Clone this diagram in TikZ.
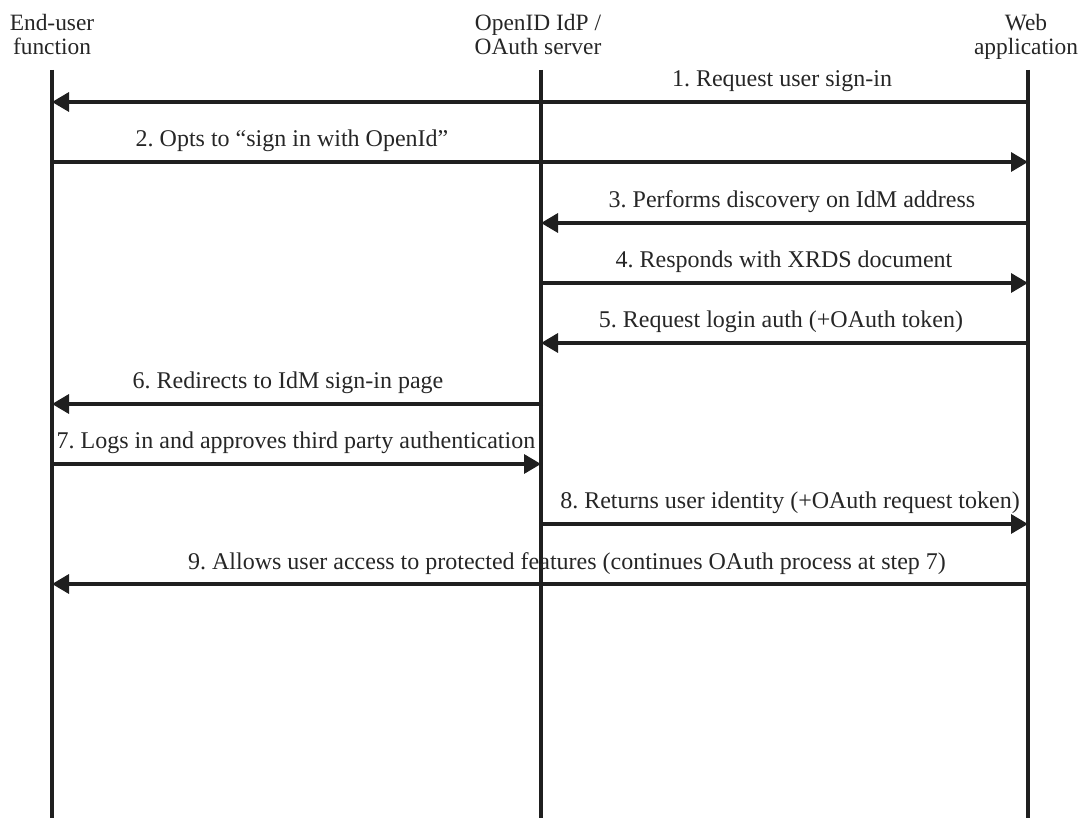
\documentclass[tikz,border=0pt]{standalone}
\usepackage{fontspec}
\setmainfont{Liberation Serif}
\usetikzlibrary{arrows.meta}
\frenchspacing
\begin{document}
\begin{tikzpicture}[x=0.5pt,y=-0.5pt,
  life/.style={line width=1.6pt, draw=black!88},
  msg/.style={line width=1.7pt, draw=black!88, -{Triangle[length=8.5pt,width=9.5pt]}},
  lbl/.style={anchor=base, inner sep=0pt, text=black!85, font=\fontsize{12pt}{12pt}\selectfont},
  actor/.style={anchor=base, align=center, inner sep=0pt, text=black!85, font=\fontsize{11.7pt}{12pt}\selectfont}]
\useasboundingbox (0,0) rectangle (1083,818);

% actors
\node[actor] (user) at (52,55) {End-user\\function};
\node[actor] (idp) at (538,55) {OpenID IdP /\\OAuth server};
\node[actor] (web) at (1026,55) {Web\\application};

% lifelines
\coordinate (uT) at (52,70);   \coordinate (uB) at (52,818);
\coordinate (iT) at (541,70);  \coordinate (iB) at (541,818);
\coordinate (wT) at (1028,70); \coordinate (wB) at (1028,818);
\draw[life] (uT) -- (uB);
\draw[life] (iT) -- (iB);
\draw[life] (wT) -- (wB);

% message endpoints
\coordinate (w1) at (1028,102); \coordinate (u1) at (52,102);
\coordinate (u2) at (52,162);   \coordinate (w2) at (1028,162);
\coordinate (w3) at (1028,223); \coordinate (i3) at (541,223);
\coordinate (i4) at (541,283);  \coordinate (w4) at (1028,283);
\coordinate (w5) at (1028,343); \coordinate (i5) at (541,343);
\coordinate (i6) at (543,404);  \coordinate (u6) at (52,404);
\coordinate (u7) at (52,464);   \coordinate (i7) at (541,464);
\coordinate (i8) at (541,524);  \coordinate (w8) at (1028,524);
\coordinate (w9) at (1028,584); \coordinate (u9) at (52,584);

\draw[msg] (w1) -- (u1);
\draw[msg] (u2) -- (w2);
\draw[msg] (w3) -- (i3);
\draw[msg] (i4) -- (w4);
\draw[msg] (w5) -- (i5);
\draw[msg] (i6) -- (u6);
\draw[msg] (u7) -- (i7);
\draw[msg] (i8) -- (w8);
\draw[msg] (w9) -- (u9);

% labels
\node[lbl] (l1) at (782,87)  {1. Request user sign-in};
\node[lbl] (l2) at (292,147) {2. Opts to “sign in with OpenId”};
\node[lbl] (l3) at (792,208) {3. Performs discovery on IdM address};
\node[lbl] (l4) at (784,268) {4. Responds with XRDS document};
\node[lbl] (l5) at (781,328) {5. Request login auth (+OAuth token)};
\node[lbl] (l6) at (288,389) {6. Redirects to IdM sign-in page};
\node[lbl] (l7) at (296,449) {7. Logs in and approves third party authentication};
\node[lbl] (l8) at (790,509) {8. Returns user identity (+OAuth request token)};
\node[lbl] (l9) at (567,569) {9. Allows user access to protected features (continues OAuth process at step 7)};
\end{tikzpicture}
\end{document}
